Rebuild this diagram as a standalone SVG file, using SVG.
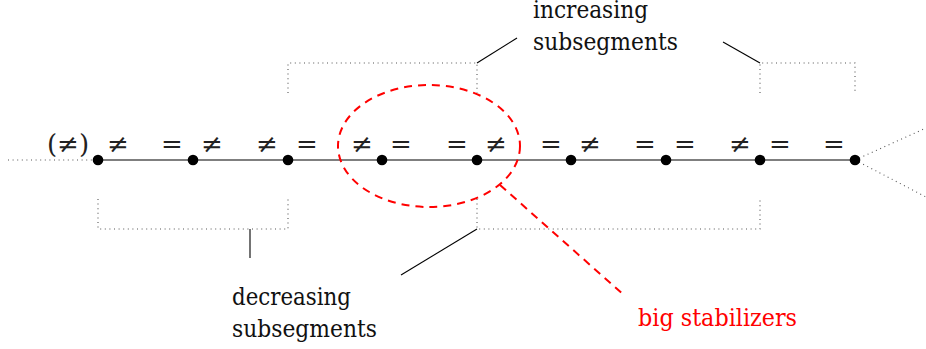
<svg xmlns="http://www.w3.org/2000/svg" width="926" height="349" viewBox="0 0 926 349">
<style>
.dot{fill:none;stroke:#555;stroke-width:1.1;stroke-dasharray:1 3.6}
.solid{fill:none;stroke:#000;stroke-width:1.1}
.red{fill:none;stroke:#f00;stroke-width:2;stroke-dasharray:8 6}
.node{fill:#000}
</style>
<rect width="926" height="349" fill="#fff"/>
<g id="connectors">
  <line class="solid" x1="98" y1="160" x2="855" y2="160"/>
  <line class="dot" x1="8" y1="160" x2="98" y2="160"/>
  <line class="dot" x1="855" y1="160" x2="926" y2="128"/>
  <line class="dot" x1="855" y1="160" x2="926" y2="197"/>
  <path class="dot" d="M288 93 V63 H477 V93"/>
  <path class="dot" d="M760 93 V63 H855 V93"/>
  <path class="dot" d="M98 199 V229 H288 V199"/>
  <path class="dot" d="M477 199 V229 H760 V199"/>
  <line class="solid" x1="477" y1="63" x2="517" y2="38"/>
  <line class="solid" x1="723" y1="42" x2="760" y2="63"/>
  <line class="solid" x1="250" y1="229" x2="250" y2="258"/>
  <line class="solid" x1="477" y1="229" x2="401" y2="275"/>
  <ellipse class="red" cx="429" cy="146" rx="91" ry="61"/>
  <line class="red" x1="500" y1="185" x2="625" y2="296"/>
</g>
<g id="nodes">
  <g id="n0"><circle class="node" cx="98" cy="160" r="5.3"/></g>
  <g id="n1"><circle class="node" cx="193" cy="160" r="5.3"/></g>
  <g id="n2"><circle class="node" cx="288" cy="160" r="5.3"/></g>
  <g id="n3"><circle class="node" cx="382" cy="160" r="5.3"/></g>
  <g id="n4"><circle class="node" cx="477" cy="160" r="5.3"/></g>
  <g id="n5"><circle class="node" cx="571" cy="160" r="5.3"/></g>
  <g id="n6"><circle class="node" cx="666" cy="160" r="5.3"/></g>
  <g id="n7"><circle class="node" cx="760" cy="160" r="5.3"/></g>
  <g id="n8"><circle class="node" cx="855" cy="160" r="5.3"/></g>
</g>
<g id="symbols" font-family="DejaVu Serif" font-size="26" fill="#222" text-anchor="middle">
  <text x="68" y="153">(≠)</text>
  <text x="118" y="153">≠</text>
  <text x="172" y="153">=</text>
  <text x="212" y="153">≠</text>
  <text x="267" y="153">≠</text>
  <text x="307" y="153">=</text>
  <text x="362" y="153">≠</text>
  <text x="401" y="153">=</text>
  <text x="457" y="153">=</text>
  <text x="496" y="153">≠</text>
  <text x="551" y="153">=</text>
  <text x="590" y="153">≠</text>
  <text x="645" y="153">=</text>
  <text x="685" y="153">=</text>
  <text x="740" y="153">≠</text>
  <text x="780" y="153">=</text>
  <text x="834" y="153">=</text>
</g>
<g id="labels" font-family="DejaVu Serif" font-size="24" fill="#111">
  <text x="533" y="18" textLength="115" lengthAdjust="spacingAndGlyphs">increasing</text>
  <text x="533" y="50" textLength="145" lengthAdjust="spacingAndGlyphs">subsegments</text>
  <text x="232" y="305" textLength="119" lengthAdjust="spacingAndGlyphs">decreasing</text>
  <text x="232" y="337" textLength="145" lengthAdjust="spacingAndGlyphs">subsegments</text>
  <text x="638" y="326" fill="#f00" textLength="159" lengthAdjust="spacingAndGlyphs">big stabilizers</text>
</g>
</svg>
